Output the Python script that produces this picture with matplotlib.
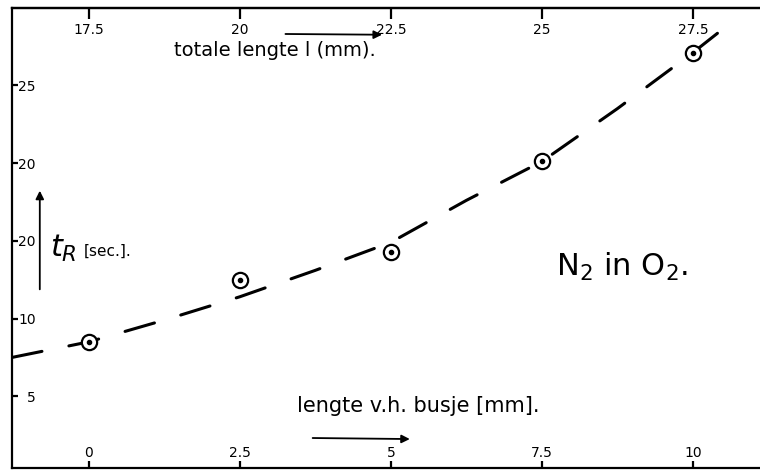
import matplotlib
matplotlib.use("Agg")
import matplotlib.pyplot as plt

# measured points: nozzle length (mm) vs retention time t_R (s)
busje_mm = [0, 2.5, 5, 7.5, 10]
t_r_sec = [8.5, 12.5, 14.3, 20.1, 27.1]

# hand-drawn trend line, read along its length
curve_x = [-1.27, 0, 1.25, 2.5, 3.75, 5, 6.25, 7.5, 8.75, 10, 10.75]
curve_y = [7.5, 8.5, 9.9, 11.4, 13.1, 14.9, 17.6, 20.1, 23.5, 27.1, 29.4]

bottom_ticks = [0, 2.5, 5, 7.5, 10]
bottom_labels = ["0", "2.5", "5", "7.5", "10"]
top_ticks = [17.5, 20, 22.5, 25, 27.5]
top_labels = ["17.5", "20", "22.5", "25", "27.5"]
left_ticks = [5, 10, 15, 20, 25]
left_labels = ["5", "10", "20", "20", "25"]

OFFSET = 17.5  # total length = nozzle length + 17.5 mm

fig = plt.figure(figsize=(7.6, 4.71), dpi=100)
ax = fig.add_axes([12 / 760, 3 / 471, 748 / 760, 460 / 471])
ax.set_xlim(-1.27, 11.11)
ax.set_ylim(0.39, 29.97)

ax.plot(curve_x, curve_y, color="black", lw=2.2, dashes=(10, 9),
        solid_capstyle="round", dash_capstyle="round", zorder=2)
ax.plot(busje_mm, t_r_sec, ls="none", marker="o", ms=11, mfc="white",
        mec="black", mew=1.6, zorder=3)
ax.plot(busje_mm, t_r_sec, ls="none", marker="o", ms=3, mfc="black",
        mec="black", zorder=4)

for side in ["left", "bottom", "top"]:
    ax.spines[side].set_linewidth(1.6)
ax.spines["right"].set_visible(False)

ax.set_xticks(bottom_ticks)
ax.set_xticklabels(bottom_labels)
ax.set_yticks(left_ticks)
ax.set_yticklabels(left_labels)
ax.tick_params(axis="x", direction="in", length=5, width=1.6, pad=-16,
               labelsize=10)
ax.tick_params(axis="y", direction="in", length=4, width=1.6, pad=-17,
               labelsize=10)

top = ax.secondary_xaxis("top", functions=(lambda x: x + OFFSET,
                                           lambda x: x - OFFSET))
top.set_xticks(top_ticks)
top.set_xticklabels(top_labels)
top.tick_params(direction="in", length=8, width=1.6, pad=-21, labelsize=10)
top.spines["top"].set_linewidth(1.6)

arrow = dict(arrowstyle="-|>", color="black", lw=1.3, mutation_scale=12)

ax.text(3.08, 27.25, "totale lengte l (mm).", fontsize=14,
        ha="center", va="center")
ax.annotate("", xy=(4.9, 28.25), xytext=(3.21, 28.3), arrowprops=arrow)

ax.text(5.46, 4.4, "lengte v.h. busje [mm].", fontsize=15,
        ha="center", va="center")
ax.annotate("", xy=(5.36, 2.25), xytext=(3.66, 2.32), arrowprops=arrow)

ax.annotate("", xy=(-0.81, 18.4), xytext=(-0.81, 11.7), arrowprops=arrow)
ax.text(-0.64, 14.5, "$t_R$", fontsize=22, ha="left", va="center")
ax.text(-0.08, 14.3, "[sec.].", fontsize=11, ha="left", va="center")

ax.text(8.83, 13.3, "N$_2$ in O$_2$.", fontsize=22, ha="center",
        va="center")

fig.savefig("out.png", dpi=100, facecolor="white")
